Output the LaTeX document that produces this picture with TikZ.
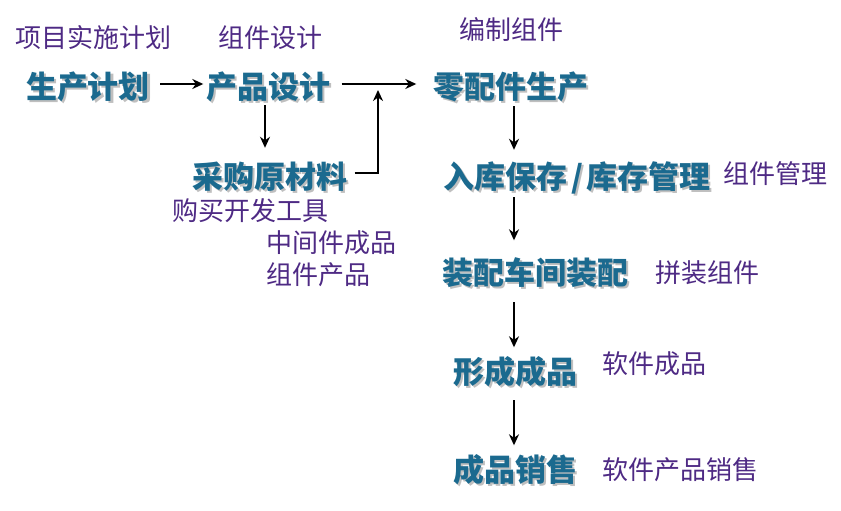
\documentclass[tikz,border=0pt]{standalone}
\usepackage{fontspec}
\setmainfont{Noto Sans CJK SC}
\usetikzlibrary{arrows.meta,calc}
\definecolor{mainblue}{HTML}{1B6A8F}
\definecolor{notepurple}{HTML}{4E2A84}
\newcommand\mnode[4]{%
  \node[main,text=black!25] at ($(#2,#3)+(2,2)$) {#4};
  \node[main] (#1) at (#2,#3) {#4};}
\begin{document}
\begin{tikzpicture}[x=1pt,y=-1pt,
  main/.style={font=\fontsize{31}{31}\selectfont\bfseries, text=mainblue, inner sep=0pt, text height=27.3pt, text depth=3.7pt},
  note/.style={font=\fontsize{26}{26}\selectfont, text=notepurple, inner sep=0pt, text height=22.9pt, text depth=3.1pt},
  flow/.style={-{Stealth[length=11pt,width=10pt]}, line width=2.8pt}]
\useasboundingbox (0,0) rectangle (841,511);
% notes
\node[note] (n1) at (93.5,38) {项目实施计划};
\node[note] (n2) at (270.5,38) {组件设计};
\node[note] (n3) at (511,30) {编制组件};
\node[note,anchor=west] (n4) at (172,211) {购买开发工具};
\node[note,anchor=west] (n5) at (266,243) {中间件成品};
\node[note,anchor=west] (n6) at (266,275) {组件产品};
\node[note,anchor=west] (n7) at (723,174) {组件管理};
\node[note,anchor=west] (n8) at (655,273) {拼装组件};
\node[note,anchor=west] (n9) at (602,364) {软件成品};
\node[note,anchor=west] (n10) at (602,470) {软件产品销售};
% main steps
\mnode{a}{88}{87}{生产计划}
\mnode{b}{268.5}{87}{产品设计}
\mnode{c}{511}{87}{零配件生产}
\mnode{d}{270}{177}{采购原材料}
\mnode{e}{577}{177}{入库保存\hspace{4pt}/\hspace{4pt}库存管理}
\mnode{f}{535.5}{273}{装配车间装配}
\mnode{g}{515.5}{372}{形成成品}
\mnode{h}{515.5}{470}{成品销售}
% connectors
\coordinate (col) at (514,0);
\coordinate (join) at (378,84);
\draw[flow, shorten <=10pt, shorten >=3pt] ([yshift=3pt]a.east) -- ([yshift=3pt]b.west);
\draw[flow, shorten <=11pt, shorten >=17pt] ([yshift=3pt]b.east) -- ([yshift=3pt]c.west);
\draw[flow, shorten <=2.5pt, shorten >=13.5pt] ([xshift=-3.5pt]b.south) -- ([xshift=-3.5pt]b.south |- d.north);
\draw[flow, shorten <=7pt, shorten >=6pt] ([yshift=4pt]d.east) -| (join);
\draw[flow, shorten <=3.5pt, shorten >=11.5pt] (c.south -| col) -- (e.north -| col);
\draw[flow, shorten <=4.5pt, shorten >=17pt] (e.south -| col) -- (f.north -| col);
\draw[flow, shorten <=13.5pt, shorten >=9pt] (f.south -| col) -- (g.north -| col);
\draw[flow, shorten <=12.5pt, shorten >=9pt] (g.south -| col) -- (h.north -| col);
\end{tikzpicture}
\end{document}
